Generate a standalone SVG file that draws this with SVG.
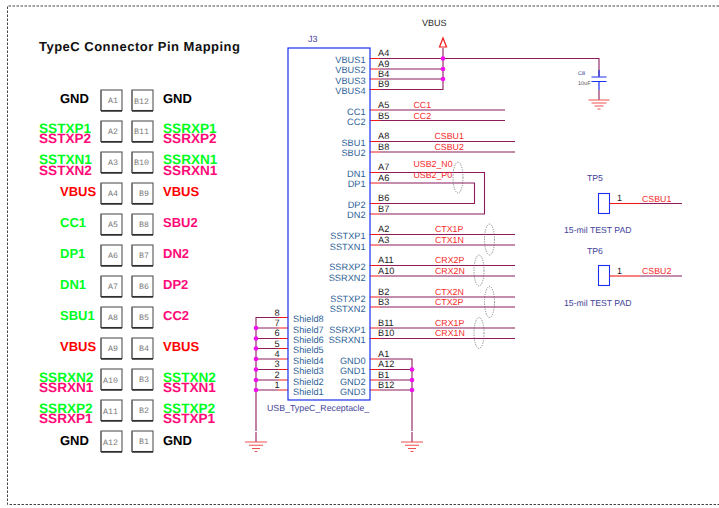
<svg xmlns="http://www.w3.org/2000/svg" width="719" height="508" viewBox="0 0 719 508">
<defs>
<style>
text{font-family:"Liberation Sans",Arial,sans-serif;text-rendering:geometricPrecision}
.h{font-size:13px;font-weight:bold}
.n{font-size:13.600px}
.bk{fill:#000}.gr{fill:#00ff1e}.pk{fill:#ff0a78}.rd{fill:#ff0000}
.bx{fill:#fff;stroke:#555;stroke-width:1.100}
.bb{stroke:#222;stroke-width:1.400;fill:none}
.bl{stroke:#777;stroke-width:1.600;fill:none}
.pl{font-size:8.300px;font-family:"Liberation Mono",monospace;fill:#777}
.pn{font-size:9.200px;fill:#2e5f98}
.pe{font-size:9.200px;fill:#222}
.nt{font-size:8.800px;fill:#f52a2a}
.w{stroke:#8c1c5c;stroke-width:1.100;fill:none}
.s{stroke:#f01a1a;stroke-width:1.100;fill:none}
.d{fill:#f010f0}
.el{fill:none;stroke:#555;stroke-width:.7;stroke-dasharray:1.200 1.200}
.g{stroke:#f05050;stroke-width:1.100;fill:none}
.b{stroke:#1a2ff0;fill:none}
.t{font-size:8.700px;fill:#44449a}
</style>
<g id="gnd"><path class="w" d="M0 -10V0"/><path class="g" d="M-11 0H11M-7 3.300H7M-4 6.500H4M-1.500 9.500H1.500"/></g>
<g id="cell"><rect class="bx" x="0" y="0" width="21" height="20.500"/><path class="bl" d="M0 0V21"/><path class="bb" d="M0 21H21"/></g>
</defs>
<rect width="719" height="508" fill="#fff"/>
<path id="frame" d="M719 6H7.500V504.500H719" fill="none" stroke="#444" stroke-width="1" stroke-dasharray="2.500 1.500"/>
<text id="title" x="39" y="51" font-size="13px" font-weight="bold" fill="#111" textLength="201">TypeC Connector Pin Mapping</text>

<g id="pinmap">
<g id="r1"><use href="#cell" x="101" y="90"/><use href="#cell" x="132" y="90"/><text class="pl" x="108" y="103">A1</text><text class="pl" x="134" y="104">B12</text><text class="h bk" x="60" y="102.500">GND</text><text class="h bk" x="163" y="102.500">GND</text></g>
<g id="r2"><use href="#cell" x="101" y="121"/><use href="#cell" x="132" y="121"/><text class="pl" x="108" y="134">A2</text><text class="pl" x="134" y="134">B11</text><text class="h n gr" x="39" y="133">SSTXP1</text><text class="h n pk" x="39" y="143">SSTXP2</text><text class="h n gr" x="163" y="133">SSRXP1</text><text class="h n pk" x="163" y="143">SSRXP2</text></g>
<g id="r3"><use href="#cell" x="101" y="152"/><use href="#cell" x="132" y="152"/><text class="pl" x="108" y="165">A3</text><text class="pl" x="134" y="165">B10</text><text class="h n gr" x="39" y="164">SSTXN1</text><text class="h n pk" x="39" y="175">SSTXN2</text><text class="h n gr" x="163" y="164">SSRXN1</text><text class="h n pk" x="163" y="175">SSRXN1</text></g>
<g id="r4"><use href="#cell" x="101" y="183"/><use href="#cell" x="132" y="183"/><text class="pl" x="108" y="196">A4</text><text class="pl" x="139" y="196">B9</text><text class="h rd" x="60" y="195.500">VBUS</text><text class="h rd" x="163" y="195.500">VBUS</text></g>
<g id="r5"><use href="#cell" x="101" y="214"/><use href="#cell" x="132" y="214"/><text class="pl" x="108" y="227">A5</text><text class="pl" x="139" y="227">B8</text><text class="h gr" x="60" y="226.500">CC1</text><text class="h pk" x="163" y="226.500">SBU2</text></g>
<g id="r6"><use href="#cell" x="101" y="245"/><use href="#cell" x="132" y="245"/><text class="pl" x="108" y="258">A6</text><text class="pl" x="139" y="258">B7</text><text class="h gr" x="60" y="258">DP1</text><text class="h pk" x="163" y="257.500">DN2</text></g>
<g id="r7"><use href="#cell" x="101" y="276"/><use href="#cell" x="132" y="276"/><text class="pl" x="108" y="289">A7</text><text class="pl" x="139" y="289">B6</text><text class="h gr" x="60" y="288.500">DN1</text><text class="h pk" x="163" y="289">DP2</text></g>
<g id="r8"><use href="#cell" x="101" y="307"/><use href="#cell" x="132" y="307"/><text class="pl" x="108" y="320">A8</text><text class="pl" x="139" y="320">B5</text><text class="h gr" x="60" y="319.500">SBU1</text><text class="h pk" x="163" y="319.500">CC2</text></g>
<g id="r9"><use href="#cell" x="101" y="338"/><use href="#cell" x="132" y="338"/><text class="pl" x="108" y="351">A9</text><text class="pl" x="139" y="351">B4</text><text class="h rd" x="60" y="351">VBUS</text><text class="h rd" x="163" y="351">VBUS</text></g>
<g id="r10"><use href="#cell" x="101" y="369"/><use href="#cell" x="132" y="369"/><text class="pl" x="103" y="383">A10</text><text class="pl" x="139" y="382">B3</text><text class="h n gr" x="39" y="382">SSRXN2</text><text class="h n pk" x="39" y="392">SSRXN1</text><text class="h n gr" x="163" y="382">SSTXN2</text><text class="h n pk" x="163" y="392">SSTXN1</text></g>
<g id="r11"><use href="#cell" x="101" y="400"/><use href="#cell" x="132" y="400"/><text class="pl" x="103" y="414">A11</text><text class="pl" x="139" y="413">B2</text><text class="h n gr" x="39" y="413">SSRXP2</text><text class="h n pk" x="39" y="423">SSRXP1</text><text class="h n gr" x="163" y="413">SSTXP2</text><text class="h n pk" x="163" y="423">SSTXP1</text></g>
<g id="r12"><use href="#cell" x="101" y="431"/><use href="#cell" x="132" y="431"/><text class="pl" x="103" y="445">A12</text><text class="pl" x="139" y="444">B1</text><text class="h bk" x="60" y="444.500">GND</text><text class="h bk" x="163" y="444.500">GND</text></g>
</g>

<g id="connectors">
<path class="w" d="M380 58.500H599V76M380 69H443M380 79H443M380 89.500H443V48"/>
<path class="w" d="M380 110H505M380 120.500H505M380 141.500H515M380 152H515"/>
<path class="w" d="M380 172.500H484.500V214H380M380 183H474.500V203.500H380"/>
<path class="w" d="M380 234.500H515M380 245H515M380 265.500H515M380 276H515M380 297H515M380 307H515M380 328H515M380 338.500H515"/>
<path class="w" d="M380 359H412V431M380 369.500H412M380 380H412M380 390H412"/>
<path class="w" d="M278 317.500H256V431M278 328H256M278 338.500H256M278 348.500H256M278 359H256M278 369.500H256M278 380H256M278 390H256"/>
<path class="s" d="M370 58.500H380M370 69H380M370 79H380M370 89.500H380M370 110H380M370 120.500H380M370 141.500H380M370 152H380M370 172.500H380M370 183H380M370 203.500H380M370 214H380M370 234.500H380M370 245H380M370 265.500H380M370 276H380M370 297H380M370 307H380M370 328H380M370 338.500H380M370 359H380M370 369.500H380M370 380H380M370 390H380"/>
<path class="s" d="M278 317.500H288M278 328H288M278 338.500H288M278 348.500H288M278 359H288M278 369.500H288M278 380H288M278 390H288"/>
<circle class="d" cx="443" cy="58.500" r="2.300"/><circle class="d" cx="443" cy="69" r="2.300"/><circle class="d" cx="443" cy="79" r="2.300"/>
<circle class="d" cx="412" cy="369.500" r="2.300"/><circle class="d" cx="412" cy="380" r="2.300"/><circle class="d" cx="412" cy="390" r="2.300"/>
<circle class="d" cx="256" cy="328" r="2.300"/><circle class="d" cx="256" cy="338.500" r="2.300"/><circle class="d" cx="256" cy="348.500" r="2.300"/><circle class="d" cx="256" cy="359" r="2.300"/><circle class="d" cx="256" cy="369.500" r="2.300"/><circle class="d" cx="256" cy="380" r="2.300"/><circle class="d" cx="256" cy="390" r="2.300"/>
<path d="M443 38L439.500 47H446.500Z" fill="#fff" stroke="#f01a1a" stroke-width="1.200"/>
<use href="#gnd" x="256" y="442"/>
<use href="#gnd" x="412" y="442"/>
</g>

<g id="vbus-label"><text x="422" y="26" font-size="9px" fill="#222">VBUS</text></g>

<g id="J3">
<rect x="288" y="48" width="82" height="352" fill="#fff" stroke="#1a2ff0" stroke-width="1.200"/>
<text x="308" y="42" font-size="9px" fill="#44449a">J3</text>
<text x="267" y="411" font-size="8.800px" fill="#44449a">USB_TypeC_Receptacle_</text>
<g text-anchor="end" class="pn">
<text x="365.500" y="63">VBUS1</text><text x="365.500" y="73">VBUS2</text><text x="365.500" y="84">VBUS3</text><text x="365.500" y="94">VBUS4</text>
<text x="365.500" y="115">CC1</text><text x="365.500" y="125">CC2</text><text x="365.500" y="146">SBU1</text><text x="365.500" y="156">SBU2</text>
<text x="365.500" y="177">DN1</text><text x="365.500" y="187">DP1</text><text x="365.500" y="208">DP2</text><text x="365.500" y="218">DN2</text>
<text x="365.500" y="239">SSTXP1</text><text x="365.500" y="250">SSTXN1</text><text x="365.500" y="270">SSRXP2</text><text x="365.500" y="281">SSRXN2</text>
<text x="365.500" y="302">SSTXP2</text><text x="365.500" y="312">SSTXN2</text><text x="365.500" y="333">SSRXP1</text><text x="365.500" y="343">SSRXN1</text>
<text x="365.500" y="364">GND0</text><text x="365.500" y="374">GND1</text><text x="365.500" y="385">GND2</text><text x="365.500" y="395">GND3</text>
</g>
<g class="pn">
<text x="293" y="322">Shield8</text><text x="293" y="333">Shield7</text><text x="293" y="343">Shield6</text><text x="293" y="353">Shield5</text><text x="293" y="364">Shield4</text><text x="293" y="374">Shield3</text><text x="293" y="385">Shield2</text><text x="293" y="395">Shield1</text>
</g>
<g class="pe">
<text x="378" y="56">A4</text><text x="378" y="67">A9</text><text x="378" y="77">B4</text><text x="378" y="87">B9</text>
<text x="378" y="108">A5</text><text x="378" y="119">B5</text><text x="378" y="139">A8</text><text x="378" y="150">B8</text>
<text x="378" y="170">A7</text><text x="378" y="181">A6</text><text x="378" y="201">B6</text><text x="378" y="212">B7</text>
<text x="378" y="232">A2</text><text x="378" y="243">A3</text><text x="378" y="263">A11</text><text x="378" y="274">A10</text>
<text x="378" y="295">B2</text><text x="378" y="305">B3</text><text x="378" y="326">B11</text><text x="378" y="336">B10</text>
<text x="378" y="357">A1</text><text x="378" y="367">A12</text><text x="378" y="378">B1</text><text x="378" y="388">B12</text>
</g>
<g class="pe" text-anchor="middle">
<text x="277" y="315.500">8</text><text x="277" y="326">7</text><text x="277" y="336">6</text><text x="277" y="347">5</text><text x="277" y="357">4</text><text x="277" y="367">3</text><text x="277" y="378">2</text><text x="277" y="388">1</text>
</g>
</g>

<g id="nets" class="nt">
<text x="413.500" y="108">CC1</text><text x="413.500" y="119">CC2</text><text x="434.500" y="139">CSBU1</text><text x="434.500" y="150">CSBU2</text>
<text x="413.500" y="167">USB2_N0</text><text x="413.500" y="178">USB2_P0</text>
<text x="435" y="232">CTX1P</text><text x="435" y="243">CTX1N</text><text x="435" y="263">CRX2P</text><text x="435" y="274">CRX2N</text>
<text x="435" y="295">CTX2N</text><text x="435" y="305">CTX2P</text><text x="435" y="326">CRX1P</text><text x="435" y="336">CRX1N</text>
</g>
<g id="pairs">
<ellipse class="el" cx="458" cy="177.500" rx="5" ry="15.500"/>
<ellipse class="el" cx="489.500" cy="239.500" rx="5" ry="15.500"/>
<ellipse class="el" cx="479" cy="270.500" rx="5" ry="15.500"/>
<ellipse class="el" cx="489.500" cy="302" rx="5" ry="15.500"/>
<ellipse class="el" cx="479" cy="333" rx="5" ry="15.500"/>
</g>

<g id="C8">
<path class="b" stroke-width="1.200" d="M599 70V77M591.500 77H606.500M591.500 81.500H606.500M599 81.500V90"/>
<path class="w" d="M599 90V100"/>
<path class="g" d="M588.500 100H609.500M591.500 103H606.500M594.500 106H603.500M597.500 109H600.500"/>
<text x="578" y="75" font-size="5.500px" fill="#44449a">C8</text>
<text x="578" y="85" font-size="5.500px" fill="#555">10uF</text>
</g>

<g id="TP5">
<text class="t" x="587" y="181">TP5</text>
<rect x="598.500" y="193.500" width="11" height="20" fill="#fff" stroke="#1a2ff0" stroke-width="1.100"/>
<path class="s" d="M609.500 203.500H640"/><path class="w" d="M640 203.500H682"/>
<text x="617" y="201" font-size="9px" fill="#222">1</text>
<text class="nt" x="642" y="202">CSBU1</text>
<text class="t" x="564" y="233">15-mil TEST PAD</text>
</g>
<g id="TP6">
<text class="t" x="587" y="254">TP6</text>
<rect x="598.500" y="265.500" width="11" height="20" fill="#fff" stroke="#1a2ff0" stroke-width="1.100"/>
<path class="s" d="M609.500 276H640"/><path class="w" d="M640 276H682"/>
<text x="617" y="274" font-size="9px" fill="#222">1</text>
<text class="nt" x="642" y="274">CSBU2</text>
<text class="t" x="564" y="306">15-mil TEST PAD</text>
</g>
</svg>
